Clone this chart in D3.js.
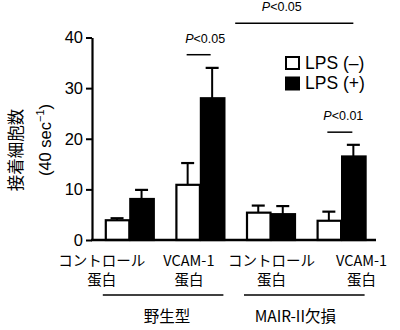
<!DOCTYPE html>
<html>
<head>
<meta charset="utf-8">
<script src="https://cdn.jsdelivr.net/npm/d3@7"></script>
<style>
  html, body { margin: 0; padding: 0; background: #fff; }
  svg { display: block; }
  .latin { font-family: "Liberation Sans", Arial, sans-serif; }
  .jp { font-family: "Noto Sans CJK JP", sans-serif; }
</style>
</head>
<body>
<script>
// Adherent cell counts per 40 sec, mean with upper SD bar
const groups = ["wt-control", "wt-vcam", "ko-control", "ko-vcam"];
const groupLabels = [["コントロール", "蛋白"], ["VCAM-1", "蛋白"], ["コントロール", "蛋白"], ["VCAM-1", "蛋白"]];
const seriesNames = ["LPS (–)", "LPS (+)"];
const lpsMinus = [3.9, 10.9, 5.4, 3.8];
const lpsMinusErr = [0.4, 4.3, 1.4, 1.8];
const lpsPlus = [8.1, 28.0, 5.1, 16.5];
const lpsPlusErr = [1.8, 6.0, 1.6, 2.3];
const yTicks = [0, 10, 20, 30, 40];
const genotypes = ["野生型", "MAIR-II欠損"];
const genotypeGroups = [["wt-control", "wt-vcam"], ["ko-control", "ko-vcam"]];
const pLabels = ["P<0.05", "P<0.05", "P<0.01"];
const pLevels = [36.6, 42.8, 21.3];

const W = 400, H = 330;
const svg = d3.select("body").append("svg").attr("width", W).attr("height", H);

const axisX0 = 92, axisX1 = 376, y0 = 240, y40 = 37.5;

const x = d3.scaleBand().domain(groups).range([94, 376.4]).paddingInner(0.306).paddingOuter(0.153);
const bw = x.bandwidth();
const half = bw / 2;
const y = d3.scaleLinear().domain([0, 40]).range([y0, y40]);

// y axis
const yAxis = d3.axisLeft(y).tickValues(yTicks).tickSize(6).tickPadding(3).tickSizeOuter(0);
const gy = svg.append("g").attr("transform", `translate(${axisX0},0)`).call(yAxis);
gy.select(".domain").attr("stroke", "#000").attr("stroke-width", 2.2);
gy.selectAll(".tick line").attr("stroke", "#000").attr("stroke-width", 2);
gy.selectAll(".tick text").attr("class", "latin").attr("font-size", 16.5).attr("fill", "#000");

// bars
const series = [
  { vals: lpsMinus, errs: lpsMinusErr, fill: "#fff", off: 0 },
  { vals: lpsPlus, errs: lpsPlusErr, fill: "#000", off: half }
];
series.forEach(s => {
  const g = svg.append("g");
  // error bars (upper only)
  groups.forEach((gk, i) => {
    const cx = x(gk) + s.off + half / 2;
    g.append("line").attr("x1", cx).attr("x2", cx)
      .attr("y1", y(s.vals[i])).attr("y2", y(s.vals[i] + s.errs[i]))
      .attr("stroke", "#000").attr("stroke-width", 2);
    g.append("line").attr("x1", cx - 6.5).attr("x2", cx + 6.5)
      .attr("y1", y(s.vals[i] + s.errs[i])).attr("y2", y(s.vals[i] + s.errs[i]))
      .attr("stroke", "#000").attr("stroke-width", 2.2);
  });
  g.selectAll("rect").data(s.vals).join("rect")
    .attr("x", (d, i) => x(groups[i]) + s.off + 1)
    .attr("y", d => y(d))
    .attr("width", half - 1)
    .attr("height", d => y(0) - y(d))
    .attr("fill", s.fill).attr("stroke", "#000").attr("stroke-width", 2.2);
});

// x axis baseline
svg.append("line").attr("x1", axisX0 - 1).attr("x2", axisX1).attr("y1", y0).attr("y2", y0)
  .attr("stroke", "#000").attr("stroke-width", 2.5);

// category labels
const labelShift = [-27.5, -11, 1, 20.5];
groups.forEach((gk, i) => {
  const cx = x(gk) + half + labelShift[i];
  groupLabels[i].forEach((t, j) => {
    svg.append("text").attr("class", "jp").attr("x", cx).attr("y", 265.5 + j * 19.5)
      .attr("text-anchor", "middle").attr("font-size", 14.5).attr("fill", "#000").text(t);
  });
});

// genotype brackets
const genoShift = [4, -9];
genotypeGroups.forEach((gg, i) => {
  const xa = x(gg[0]) - 2, xb = x(gg[1]) + bw - 1;
  svg.append("line").attr("x1", xa).attr("x2", xb).attr("y1", 295).attr("y2", 295)
    .attr("stroke", "#000").attr("stroke-width", 1.5);
  svg.append("text").attr("class", "jp").attr("x", (xa + xb) / 2 + genoShift[i]).attr("y", 322)
    .attr("text-anchor", "middle").attr("font-size", 15.5).attr("fill", "#000").text(genotypes[i]);
});

// significance lines
const sigSpans = [
  [x("wt-vcam") + half / 2 - 1, x("wt-vcam") + half * 1.5 - 1.5],
  [(x("wt-vcam") + bw + x("ko-control")) / 2, x("ko-vcam") + half * 1.5],
  [x("ko-vcam") + half / 2 - 1.5, x("ko-vcam") + half * 1.5 - 1]
];
const sigTextShift = [6.5, -12.5, 3.5];
sigSpans.forEach((sp, i) => {
  const ly = y(pLevels[i]);
  svg.append("line").attr("x1", sp[0]).attr("x2", sp[1]).attr("y1", ly).attr("y2", ly)
    .attr("stroke", "#000").attr("stroke-width", 1.5);
  const t = svg.append("text").attr("class", "latin").attr("x", (sp[0] + sp[1]) / 2 + sigTextShift[i])
    .attr("y", ly - 12).attr("text-anchor", "middle").attr("font-size", 12.5).attr("fill", "#000");
  t.append("tspan").attr("font-style", "italic").text(pLabels[i][0]);
  t.append("tspan").text(pLabels[i].slice(1));
});

// legend
seriesNames.forEach((name, i) => {
  const ly = 56 + i * 20.5;
  svg.append("rect").attr("x", 286).attr("y", ly + 1).attr("width", 13).attr("height", 12)
    .attr("fill", series[i].fill).attr("stroke", "#000").attr("stroke-width", 2);
  svg.append("text").attr("class", "latin").attr("x", 305).attr("y", ly + 12.8)
    .attr("font-size", 17.5).attr("fill", "#000").text(name);
});

// y axis title
svg.append("text").attr("class", "jp")
  .attr("transform", "translate(22,150) rotate(-90)")
  .attr("text-anchor", "middle").attr("font-size", 16.5).attr("fill", "#000").text("接着細胞数");
const yt2 = svg.append("text").attr("class", "latin")
  .attr("transform", "translate(51,140) rotate(-90)")
  .attr("text-anchor", "middle").attr("font-size", 16.5).attr("fill", "#000");
yt2.append("tspan").text("(40 sec");
yt2.append("tspan").attr("font-size", 11).attr("dy", -7).text("−1");
yt2.append("tspan").attr("dy", 7).text(")");
</script>
</body>
</html>
